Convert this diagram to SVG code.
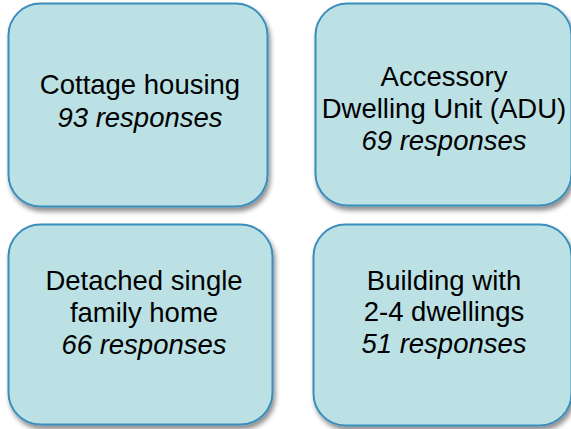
<svg xmlns="http://www.w3.org/2000/svg" width="571" height="429" viewBox="0 0 571 429">
<defs>
<filter id="sh" x="-10%" y="-10%" width="125%" height="125%">
<feGaussianBlur in="SourceAlpha" stdDeviation="2.5"/>
<feOffset dx="2" dy="4" result="b"/>
<feComponentTransfer><feFuncA type="linear" slope="0.45"/></feComponentTransfer>
<feMerge><feMergeNode/><feMergeNode in="SourceGraphic"/></feMerge>
</filter>
</defs>
<style>
.box{fill:#bbe1e5;stroke:#3b8dbb;stroke-width:2}
.t{font-family:"Liberation Sans",Arial,sans-serif;font-size:27.5px;fill:#000;text-anchor:middle}
.i{font-style:italic}
</style>
<rect width="571" height="429" fill="#fff"/>
<g id="cottage">
<rect class="box" x="8.5" y="3.5" width="259" height="203" rx="32" filter="url(#sh)"/>
<text class="t" x="140" y="94">Cottage housing</text>
<text class="t i" x="140" y="127">93 responses</text>
</g>
<g id="adu">
<rect class="box" x="315.5" y="3.5" width="256" height="202" rx="32" filter="url(#sh)"/>
<text class="t" x="444" y="86">Accessory</text>
<text class="t" x="444" y="118">Dwelling Unit (ADU)</text>
<text class="t i" x="444" y="150">69 responses</text>
</g>
<g id="detached">
<rect class="box" x="8.5" y="224.5" width="264" height="200" rx="32" filter="url(#sh)"/>
<text class="t" x="144" y="290">Detached single</text>
<text class="t" x="144" y="322">family home</text>
<text class="t i" x="144" y="354">66 responses</text>
</g>
<g id="building">
<rect class="box" x="313.5" y="224.5" width="258" height="201" rx="32" filter="url(#sh)"/>
<text class="t" x="444" y="290">Building with</text>
<text class="t" x="444" y="321">2-4 dwellings</text>
<text class="t i" x="444" y="353">51 responses</text>
</g>
<g id="connectors"/>
</svg>
